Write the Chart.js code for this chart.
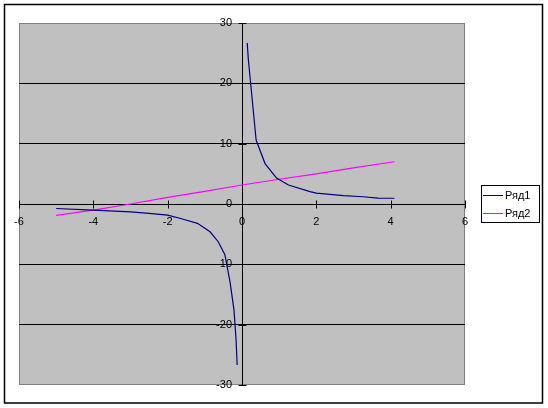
<!DOCTYPE html>
<html>
<head>
<meta charset="utf-8">
<script src="https://cdn.jsdelivr.net/npm/chart.js@4/dist/chart.umd.min.js"></script>
<style>
html,body{margin:0;padding:0;background:#fff;}
#wrap{width:548px;height:408px;position:relative;}
</style>
</head>
<body>
<div id="wrap"><canvas id="c" width="548" height="408"></canvas></div>
<script>
// ---- data ----
const seriesNames = ['Ряд1', 'Ряд2'];
const series1X = [-5, -4, -3, -2.5, -2, -1.65, -1.2, -0.86, -0.64, -0.46, -0.32, -0.215, -0.16, -0.13, 0, 0.14, 0.17, 0.38, 0.62, 0.93, 1.25, 1.83, 2.0, 2.73, 3.26, 3.66, 4.1];
const series1Y = [-0.75, -1.0, -1.3, -1.55, -1.85, -2.4, -3.2, -4.6, -6.25, -8.4, -13.0, -17.6, -22.5, -26.7, null, 26.7, 24.0, 10.6, 6.7, 4.3, 3.15, 2.05, 1.8, 1.4, 1.2, 0.98, 0.95];
const series2X = [-5, -4, -3, -2, -1, 0, 1, 2, 3, 4.1];
const series2Y = [-1.9, -1.0, 0.0, 1.1, 2.1, 3.15, 4.1, 5.0, 6.0, 7.0];
const xTicks = [-6, -4, -2, 0, 2, 4, 6];
const yTicks = [-30, -20, -10, 0, 10, 20, 30];

const pts = (xs, ys) => xs.map((x, i) => ({x: x, y: ys[i]}));

Chart.defaults.font.family = "'Liberation Sans', Arial, sans-serif";
Chart.defaults.font.size = 11;
Chart.defaults.color = '#000';

const frame = {
  id: 'frame',
  beforeDraw(chart) {
    const ctx = chart.ctx, a = chart.chartArea;
    ctx.save();
    ctx.fillStyle = '#fff';
    ctx.fillRect(0, 0, chart.width, chart.height);
    ctx.strokeStyle = '#000';
    ctx.lineWidth = 1.5;
    ctx.strokeRect(4.5, 4.5, chart.width - 10, chart.height - 9.5);
    ctx.fillStyle = '#c0c0c0';
    ctx.fillRect(a.left, a.top, a.right - a.left, a.bottom - a.top);
    ctx.strokeStyle = '#808080';
    ctx.lineWidth = 1;
    ctx.strokeRect(a.left + 0.5, a.top + 0.5, a.right - a.left - 1, a.bottom - a.top - 1);
    ctx.restore();
  },
  beforeDatasetsDraw(chart) {
    const ctx = chart.ctx, xs = chart.scales.x, ys = chart.scales.y;
    const x0 = Math.round(xs.getPixelForValue(0)) + 0.5;
    const y0 = Math.round(ys.getPixelForValue(0)) + 0.5;
    ctx.save();
    ctx.strokeStyle = '#000';
    ctx.lineWidth = 1;
    ctx.beginPath();
    xs.ticks.forEach(t => {
      const px = Math.round(xs.getPixelForValue(t.value)) + 0.5;
      ctx.moveTo(px, y0 - 4); ctx.lineTo(px, y0 + 4);
    });
    ys.ticks.forEach(t => {
      const py = Math.round(ys.getPixelForValue(t.value)) + 0.5;
      ctx.moveTo(x0 - 4, py); ctx.lineTo(x0 + 4, py);
    });
    ctx.stroke();
    ctx.restore();
  },
  afterDraw(chart) {
    // legend box
    const ctx = chart.ctx;
    const L = 481, T = 185, W = 58, H = 37;
    ctx.save();
    ctx.fillStyle = '#fff';
    ctx.fillRect(L, T, W, H);
    ctx.strokeStyle = '#000';
    ctx.lineWidth = 1;
    ctx.strokeRect(L + 0.5, T + 0.5, W, H);
    ctx.font = "11px 'Liberation Sans', Arial, sans-serif";
    ctx.textBaseline = 'middle';
    chart.data.datasets.forEach((ds, i) => {
      const y = T + 10.5 + i * 18;
      ctx.strokeStyle = ds.borderColor;
      ctx.beginPath();
      ctx.moveTo(L + 2, y); ctx.lineTo(L + 22, y);
      ctx.stroke();
      ctx.fillStyle = '#000';
      ctx.fillText(ds.label, L + 24, y + 0.5);
    });
    ctx.restore();
  }
};

new Chart(document.getElementById('c'), {
  type: 'scatter',
  data: {
    datasets: [
      {label: seriesNames[0], data: pts(series1X, series1Y), showLine: true, borderColor: '#000080', backgroundColor: '#000080', borderWidth: 1.2, pointRadius: 0, tension: 0, spanGaps: false},
      {label: seriesNames[1], data: pts(series2X, series2Y), showLine: true, borderColor: '#ff00ff', backgroundColor: '#ff00ff', borderWidth: 1.2, pointRadius: 0, tension: 0}
    ]
  },
  options: {
    responsive: false,
    animation: false,
    layout: {padding: {left: 19, top: 23, right: 83, bottom: 23}},
    plugins: {legend: {display: false}, tooltip: {enabled: false}},
    scales: {
      x: {
        type: 'linear', min: -6, max: 6,
        position: 'center',
        afterFit: s => { s.height = 0; },
        afterBuildTicks: s => { s.ticks = xTicks.map(v => ({value: v})); },
        ticks: {padding: 11, maxRotation: 0, autoSkip: false, color: '#000'},
        grid: {display: true, drawOnChartArea: false, drawTicks: false},
        border: {display: true, color: '#000', width: 1}
      },
      y: {
        type: 'linear', min: -30, max: 30,
        position: 'center',
        afterFit: s => { s.width = 0; },
        afterBuildTicks: s => { s.ticks = yTicks.map(v => ({value: v})); },
        ticks: {padding: 10, autoSkip: false, color: '#000'},
        grid: {color: c => (c.tick && Math.abs(c.tick.value) === 30) ? 'rgba(0,0,0,0)' : '#000', lineWidth: 1, drawTicks: false},
        border: {display: true, color: '#000', width: 1}
      }
    }
  },
  plugins: [frame]
});
</script>
</body>
</html>
